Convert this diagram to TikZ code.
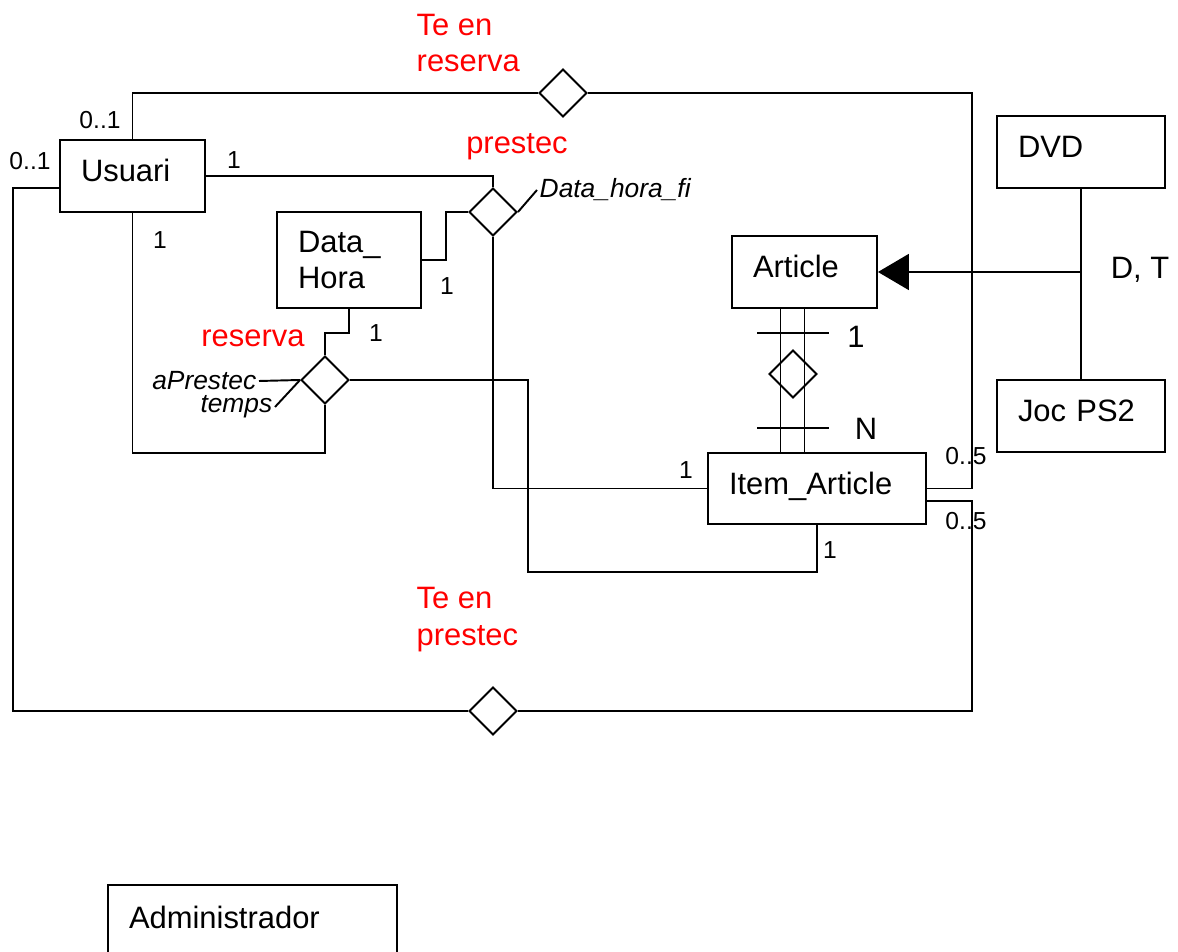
\documentclass[tikz,border=0pt]{standalone}
\usepackage{fontspec}
\setmainfont{Liberation Sans}
\usepackage{tikz}
\usetikzlibrary{arrows.meta,shapes.geometric,calc}
\definecolor{relred}{RGB}{255,0,0}

\begin{document}
\begin{tikzpicture}[x=0.02cm,y=-0.02cm,line width=1.1pt,
  ent/.style={draw,inner xsep=0.42cm,inner ysep=2pt,align=left,
              minimum height=1.44cm,font=\fontsize{17.6}{21}\selectfont},
  ent1/.style={ent,text depth=0.22cm},
  rel/.style={draw,diamond,aspect=1,inner sep=0pt,
              minimum width=0.96cm,minimum height=0.96cm},
  card/.style={font=\fontsize{14}{16}\selectfont,inner sep=1pt},
  big/.style={font=\fontsize{17.6}{21}\selectfont,inner sep=1pt},
  redlbl/.style={big,text=relred,align=left},
  attr/.style={font=\fontsize{15}{17}\selectfont\itshape,inner sep=1pt}]
\useasboundingbox (0,0) rectangle (1178,952);

% ------------- entities -------------
\node[ent1,text width=2.06cm] (usuari) at (132.5,176) {Usuari};
\node[ent,text width=2.04cm,minimum height=1.92cm] (datahora) at (349,260) {Data\_\\Hora};
\node[ent1,text width=2.06cm] (article) at (804.5,272) {Article};
\node[ent1,text width=3.52cm,minimum height=1.42cm] (item) at (817,488.5) {Item\_Article};
\node[ent1,text width=2.52cm] (dvd) at (1081,152) {DVD};
\node[ent1,text width=2.52cm] (joc) at (1081,416) {Joc PS2};
\node[ent1,text width=4.94cm,minimum height=1.52cm,anchor=north] (admin) at (252.5,884) {Administrador};

% ------------- relations -------------
\node[rel] (tereserva) at (563,93) {};
\node[rel] (prestec) at (493,212) {};
\node[rel] (reserva) at (325,380) {};
\node[rel] (teprestec) at (493,711) {};
\node[rel] (agg) at (793,374) {};

% te en reserva
\coordinate (ra) at (972,488.5);
\draw (usuari.north) |- (tereserva.west);
\draw (tereserva.east) -| (ra) -- (item.east);

% prestec
\draw (usuari.east) -| (prestec.north);
\draw (datahora.east) -- ++(24,0) |- (prestec.west);
\draw (prestec.south) |- (item.west);
\node[attr,anchor=west] (dhf) at (537,190) {Data\_hora\_fi};
\draw (prestec.east) -- (dhf.west);

% reserva
\coordinate (rb) at (528,572);
\draw (usuari.south) -- ++(0,240) -| (reserva.south);
\draw (datahora.south) -- ++(0,24) -| (reserva.north);
\draw (reserva.east) -| (rb) -| (item.south);
\node[attr,anchor=east] (apr) at (259,381) {aPrestec};
\node[attr,anchor=east] (tmp) at (275,407) {temps};
\draw (apr.east) -- (reserva.west);
\draw (tmp.east) -- (reserva.west);

% te en prestec
\coordinate (rc) at (972,711);
\coordinate (lc) at (13,711);
\draw ($(item.east)+(0,12.5)$) -| (rc) -- (teprestec.east);
\draw (teprestec.west) -- (lc) |- ($(usuari.west)+(0,12)$);

% article / item
\coordinate (al) at ($(article.south)+(-24,0)$);
\draw (al) -- (al |- item.north);
\draw (article.south) -- (article.south |- item.north);
\draw (757,333) -- (829,333);
\draw (757,428) -- (829,428);

% generalisation
\draw (dvd.south) -- (joc.north);
\draw[-{Triangle[length=0.62cm,width=0.72cm]}] (dvd.south |- article.east) -- (article.east);
\node[big] (dt) at (1140,270) {D, T};

% ------------- labels -------------
\node[redlbl,anchor=west] (lterres) at (414,43) {Te en\\reserva};
\node[redlbl] (lprest) at (517,147) {prestec};
\node[redlbl] (lres) at (253,338) {reserva};
\node[redlbl,anchor=west] (lterpre) at (414,620) {Te en\\prestec};

\node[card] (c1) at (100,120) {0..1};
\node[card] (c2) at (30,161) {0..1};
\node[card] (c3) at (234,160) {1};
\node[card] (c4) at (160,240) {1};
\node[card] (c5) at (447,286) {1};
\node[card] (c6) at (376,333) {1};
\node[card] (c7) at (686,470) {1};
\node[card] (c8) at (830,550) {1};
\node[card] (c9) at (966,456) {0..5};
\node[card] (c10) at (966,521) {0..5};
\node[big] (c11) at (856,337) {1};
\node[big] (c12) at (866,429) {N};
\end{tikzpicture}
\end{document}
